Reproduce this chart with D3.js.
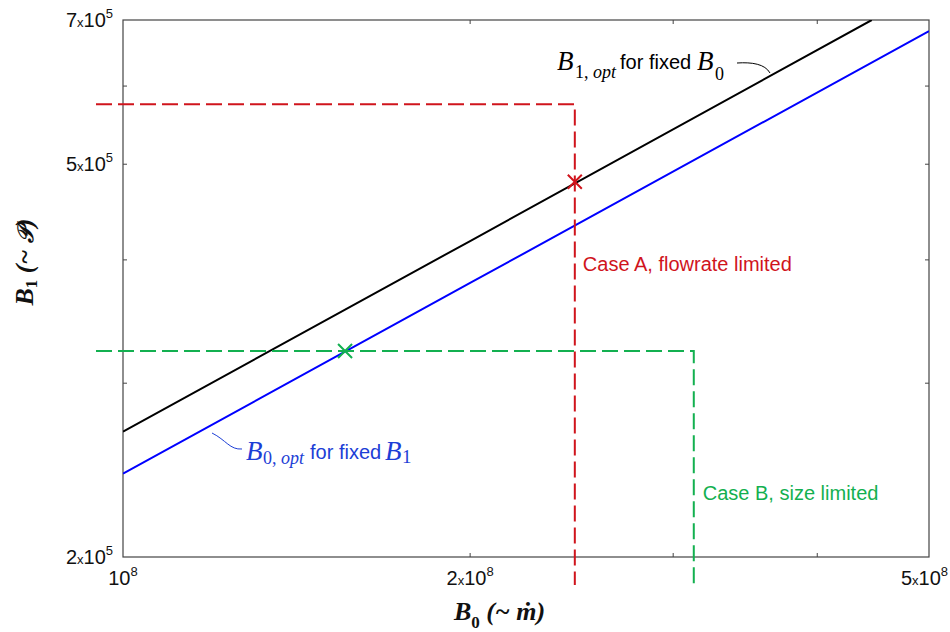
<!DOCTYPE html>
<html>
<head>
<meta charset="utf-8">
<script src="https://cdn.jsdelivr.net/npm/d3@7"></script>
<style>
  body { margin: 0; background: #fff; }
  svg { display: block; }
  .tick-label { font-family: Arial, "Liberation Sans", sans-serif; font-size: 20px; fill: #111; }
  .note { font-family: Arial, "Liberation Sans", sans-serif; font-size: 20px; }
  .math { font-family: "Times New Roman", "Liberation Serif", serif; }
</style>
</head>
<body>
<svg id="chart" width="950" height="632"></svg>
<script>
// axis extents (log-log)
const b0Domain = [1e8, 5e8];
const b1Domain = [2e5, 7e5];
const xTicks = [1e8, 2e8, 3e8, 4e8, 5e8];
const yTicks = [2e5, 3e5, 4e5, 5e5, 6e5, 7e5];
const xTickLabels = [[1e8, '', '8'], [2e8, '2', '8'], [5e8, '5', '8']];
const yTickLabels = [[2e5, '2', '5'], [5e5, '5', '5'], [7e5, '7', '5']];

// optimum curves
const b1OptB0 = [1e8, 2e8, 4.46e8];
const b1OptB1 = [2.68e5, 4.18e5, 7.0e5];
const b0OptB0 = [1e8, 2e8, 5e8];
const b0OptB1 = [2.43e5, 3.79e5, 6.82e5];

// design cases
const caseA = { b0: 2.465e8, b1: 5.75e5, markB0: 2.465e8, markB1: 4.80e5 };
const caseB = { b0: 3.126e8, b1: 3.234e5, markB0: 1.558e8, markB1: 3.234e5 };

const RED = '#d0141c';
const GREEN = '#13b050';
const BLUE = '#0000ff';
const BLUE_TEXT = '#1c3ed6';

const margin = { left: 123, right: 21, top: 20, bottom: 75 };
const width = 950, height = 632;

const svg = d3.select('#chart');
const x = d3.scaleLog().domain(b0Domain).range([margin.left, width - margin.right]);
const y = d3.scaleLog().domain(b1Domain).range([height - margin.bottom, margin.top]);
const [x0, x1] = x.range();
const [y0, y1] = y.range();

svg.append('defs').append('clipPath').attr('id', 'plot-clip')
    .append('rect').attr('x', x0).attr('y', y1).attr('width', x1 - x0).attr('height', y0 - y1);

// frame
svg.append('rect')
    .attr('x', x0).attr('y', y1).attr('width', x1 - x0).attr('height', y0 - y1)
    .attr('fill', 'none').attr('stroke', '#444').attr('stroke-width', 1.2);

// inward ticks on all four sides
const TICK = 4;
const tickG = svg.append('g').attr('stroke', '#444').attr('stroke-width', 1);
xTicks.slice(1, -1).forEach(v => {
    tickG.append('line').attr('x1', x(v)).attr('x2', x(v)).attr('y1', y0).attr('y2', y0 - TICK);
    tickG.append('line').attr('x1', x(v)).attr('x2', x(v)).attr('y1', y1).attr('y2', y1 + TICK);
});
yTicks.slice(1, -1).forEach(v => {
    tickG.append('line').attr('y1', y(v)).attr('y2', y(v)).attr('x1', x0).attr('x2', x0 + TICK);
    tickG.append('line').attr('y1', y(v)).attr('y2', y(v)).attr('x1', x1).attr('x2', x1 - TICK);
});

function powLabel(sel, mant, exp) {
    if (mant) {
        sel.append('tspan').text(mant);
        sel.append('tspan').attr('font-size', 13).text('x');
    }
    sel.append('tspan').text('10');
    sel.append('tspan').attr('font-size', 13).attr('dy', -9).text(exp);
}

xTickLabels.forEach(([v, m, e], i) => {
    const last = i === xTickLabels.length - 1;
    const t = svg.append('text').attr('class', 'tick-label')
        .attr('x', last ? x1 + 19 : x(v)).attr('y', y0 + 28)
        .attr('text-anchor', last ? 'end' : 'middle');
    powLabel(t, m, e);
});
yTickLabels.forEach(([v, m, e]) => {
    const t = svg.append('text').attr('class', 'tick-label')
        .attr('x', x0 - 10).attr('y', y(v) + 7).attr('text-anchor', 'end');
    powLabel(t, m, e);
});

// axis titles
const xt = svg.append('text').attr('class', 'math')
    .attr('x', 454).attr('y', 620).attr('font-weight', 'bold').attr('font-style', 'italic')
    .attr('font-size', 26).attr('fill', '#111');
xt.append('tspan').text('B');
xt.append('tspan').attr('font-style', 'normal').attr('font-size', 17).attr('dy', 8).text('0');
xt.append('tspan').attr('dy', -8).text(' (~ ṁ)');

const yt = svg.append('text').attr('class', 'math')
    .attr('transform', 'translate(33,262) rotate(-90)').attr('text-anchor', 'middle')
    .attr('font-weight', 'bold').attr('font-style', 'italic').attr('font-size', 26).attr('fill', '#111');
yt.append('tspan').text('B');
yt.append('tspan').attr('font-style', 'normal').attr('font-size', 17).attr('dy', 4).text('1');
yt.append('tspan').attr('dy', -4).text(' (~ ');
yt.append('tspan').attr('font-family', '"DejaVu Serif", serif').attr('font-size', 22).text('𝒫');
yt.append('tspan').text(')');

// optimum lines
const line = d3.line().x(d => x(d[0])).y(d => y(d[1]));
const plot = svg.append('g').attr('clip-path', 'url(#plot-clip)');
plot.append('path').datum(d3.zip(b0OptB0, b0OptB1))
    .attr('d', line).attr('fill', 'none').attr('stroke', BLUE).attr('stroke-width', 2);
plot.append('path').datum(d3.zip(b1OptB0, b1OptB1))
    .attr('d', line).attr('fill', 'none').attr('stroke', '#000').attr('stroke-width', 2);

// dashed case limits (run past the frame like the original)
function caseLimit(c, color) {
    const px = x(c.b0), py = y(c.b1);
    svg.append('path')
        .attr('d', `M${x0 - 27},${py}H${px}V${y0 + 28}`)
        .attr('fill', 'none').attr('stroke', color).attr('stroke-width', 2)
        .attr('stroke-dasharray', '16,6');
    const mx = x(c.markB0), my = y(c.markB1), r = 7;
    svg.append('path')
        .attr('d', `M${mx - r},${my - r}L${mx + r},${my + r}M${mx - r},${my + r}L${mx + r},${my - r}`)
        .attr('stroke', color).attr('stroke-width', 2);
}
caseLimit(caseA, RED);
caseLimit(caseB, GREEN);

svg.append('text').attr('class', 'note').attr('fill', RED)
    .attr('x', x(caseA.b0) + 8).attr('y', 271).text('Case A, flowrate limited');
svg.append('text').attr('class', 'note').attr('fill', GREEN)
    .attr('x', x(caseB.b0) + 9).attr('y', 500).text('Case B, size limited');

// curve annotations
const a1 = svg.append('g').attr('fill', '#000');
a1.append('text').attr('class', 'math').attr('x', 557).attr('y', 70)
    .attr('font-style', 'italic').attr('font-size', 27).text('B');
const s1 = a1.append('text').attr('class', 'math').attr('x', 575).attr('y', 78).attr('font-size', 18);
s1.append('tspan').text('1, ');
s1.append('tspan').attr('font-style', 'italic').text('opt');
a1.append('text').attr('class', 'note').attr('x', 620).attr('y', 69).attr('font-size', 21).text('for fixed');
a1.append('text').attr('class', 'math').attr('x', 697).attr('y', 70)
    .attr('font-style', 'italic').attr('font-size', 27).text('B');
a1.append('text').attr('class', 'math').attr('x', 715).attr('y', 80).attr('font-size', 18).text('0');
svg.append('path').attr('d', 'M737,63 C752,62 765,64 770,73')
    .attr('fill', 'none').attr('stroke', '#000').attr('stroke-width', 1);

const a2 = svg.append('g').attr('fill', BLUE_TEXT);
a2.append('text').attr('class', 'math').attr('x', 246).attr('y', 460)
    .attr('font-style', 'italic').attr('font-size', 27).text('B');
const s2 = a2.append('text').attr('class', 'math').attr('x', 263).attr('y', 464).attr('font-size', 18);
s2.append('tspan').text('0, ');
s2.append('tspan').attr('font-style', 'italic').text('opt');
a2.append('text').attr('class', 'note').attr('x', 310).attr('y', 459).attr('font-size', 21).text('for fixed');
a2.append('text').attr('class', 'math').attr('x', 385).attr('y', 460)
    .attr('font-style', 'italic').attr('font-size', 27).text('B');
a2.append('text').attr('class', 'math').attr('x', 402).attr('y', 463).attr('font-size', 19).text('1');
svg.append('path').attr('d', 'M212,433 C226,440 230,450 242,449')
    .attr('fill', 'none').attr('stroke', BLUE_TEXT).attr('stroke-width', 1);
</script>
</body>
</html>
